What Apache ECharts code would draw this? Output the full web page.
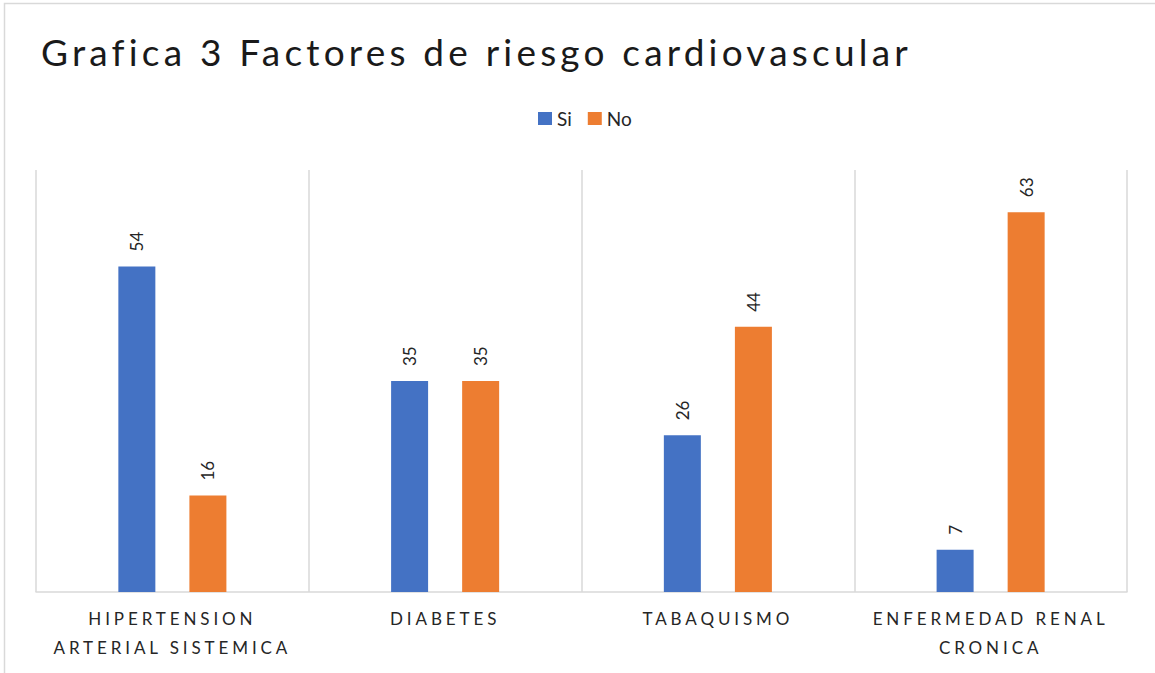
<!DOCTYPE html>
<html>
<head>
<meta charset="utf-8">
<script src="https://cdn.jsdelivr.net/npm/echarts@6/dist/echarts.min.js"></script>
<style>
  html, body { margin: 0; padding: 0; background: #fff; }
  #chart { width: 1155px; height: 673px; }
</style>
</head>
<body>
<div id="chart"></div>
<script>
const categories = ['HIPERTENSION\nARTERIAL SISTEMICA', 'DIABETES', 'TABAQUISMO', 'ENFERMEDAD RENAL\nCRONICA'];
const siValues = [54, 35, 26, 7];
const noValues = [16, 35, 44, 63];
const seriesNames = ['Si', 'No'];
const titleText = 'Grafica 3 Factores de riesgo cardiovascular';

let myChart = echarts.init(document.getElementById('chart'), null, { renderer: 'svg' });

// etiqueta de valor girada encima de la barra
const valueLabel = {
  show: true,
  position: 'top',
  rotate: 90,
  align: 'left',
  verticalAlign: 'middle',
  distance: 15,
  fontFamily: 'Lato',
  fontSize: 17,
  color: '#262626'
};

let option = {
  animation: false,
  color: ['#4472C4', '#ED7D31'],
  textStyle: { fontFamily: 'Lato' },
  // marco gris del grafico
  graphic: [{
    type: 'rect',
    shape: { x: 4.5, y: 3.5, width: 1200, height: 720 },
    style: { fill: 'none', stroke: '#d9d9d9', lineWidth: 1.5 },
    silent: true
  }],
  title: {
    text: titleText,
    left: 36,
    top: 28,
    textStyle: {
      fontFamily: 'Lato',
      fontSize: 37,
      fontWeight: 'normal',
      color: '#1a1a1a'
    }
  },
  legend: {
    data: seriesNames,
    top: 104,
    left: 533,
    icon: 'rect',
    itemWidth: 14,
    itemHeight: 13,
    itemGap: 16,
    textStyle: { fontSize: 19, color: '#262626' }
  },
  grid: {
    left: 36,
    right: 28,
    top: 170,
    bottom: 81,
    containLabel: false
  },
  xAxis: {
    type: 'category',
    data: categories,
    axisTick: { show: false },
    axisLine: { lineStyle: { color: '#d9d9d9', width: 1.5 } },
    splitLine: { show: true, lineStyle: { color: '#d9d9d9', width: 1.5 } },
    axisLabel: {
      margin: 12,
      fontSize: 17,
      lineHeight: 29,
      color: '#262626',
      interval: 0
    }
  },
  yAxis: {
    type: 'value',
    min: 0,
    max: 70,
    show: false,
    splitLine: { show: false }
  },
  series: [
    {
      name: seriesNames[0],
      type: 'bar',
      data: siValues,
      barWidth: 37,
      barGap: '92%',
      label: valueLabel
    },
    {
      name: seriesNames[1],
      type: 'bar',
      data: noValues,
      barWidth: 37,
      barGap: '92%',
      label: valueLabel
    }
  ]
};
myChart.setOption(option);

// espaciado entre letras del titulo y de las categorias (como en Excel)
function spaceLetters() {
  const catLines = [];
  categories.forEach(function(c) { c.split('\n').forEach(function(l) { catLines.push(l); }); });
  document.querySelectorAll('#chart svg text').forEach(function(t) {
    const s = t.textContent;
    if (s === titleText) {
      t.style.letterSpacing = '4.2px';
    } else if (catLines.indexOf(s) >= 0) {
      t.style.letterSpacing = '3.9px';
    }
  });
}
spaceLetters();
myChart.on('finished', spaceLetters);

window.addEventListener('resize', function() {
  myChart.resize();
});
</script>
</body>
</html>
